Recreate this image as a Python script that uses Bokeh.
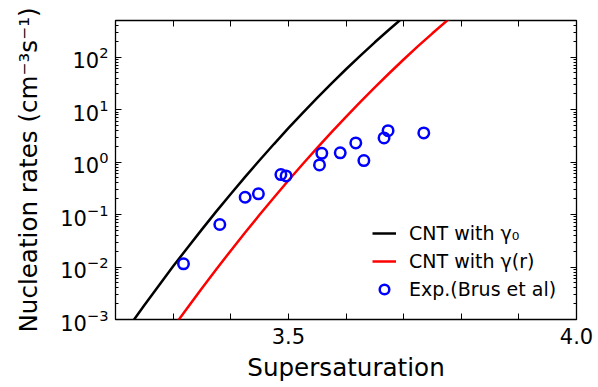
from bokeh.plotting import figure
from bokeh.models import (Range1d, FixedTicker, LinearAxis, LogAxis, Legend, LegendItem)
from bokeh.embed import file_html
from bokeh.resources import INLINE

# ---- data ----
cnt0_x = [3.200, 3.225, 3.250, 3.275, 3.300, 3.325, 3.350, 3.375, 3.400, 3.425, 3.450,
          3.475, 3.500, 3.525, 3.550, 3.575, 3.600, 3.625, 3.650, 3.675, 3.700, 3.725]
cnt0_rate = [3.16e-4, 7.74e-4, 1.87e-3, 4.42e-3, 1.03e-2, 2.34e-2, 5.22e-2, 0.115, 0.247, 0.524, 1.086,
             2.21, 4.43, 8.69, 16.7, 31.7, 58.9, 107.0, 192.0, 337.0, 581.0, 984.0]

cntr_x = [3.250, 3.275, 3.300, 3.325, 3.350, 3.375, 3.400, 3.425, 3.450, 3.475, 3.500, 3.525,
          3.550, 3.575, 3.600, 3.625, 3.650, 3.675, 3.700, 3.725, 3.750, 3.775, 3.800]
cntr_rate = [1.18e-4, 2.91e-4, 7.06e-4, 1.68e-3, 3.94e-3, 9.06e-3, 2.05e-2, 4.54e-2, 0.0989, 0.212, 0.446, 0.920,
             1.87, 3.73, 7.31, 14.1, 26.6, 49.4, 90.2, 162.0, 285.0, 493.0, 838.0]

exp_x = [3.318, 3.381, 3.425, 3.448, 3.487, 3.496, 3.554, 3.558, 3.590, 3.617, 3.631, 3.666, 3.673, 3.735]
exp_rate = [0.0115, 0.0646, 0.214, 0.248, 0.578, 0.546, 0.885, 1.47, 1.50, 2.32, 1.07, 2.89, 3.98, 3.60]

x_major = [3.5, 4.0]
x_minor = [3.2, 3.3, 3.4, 3.6, 3.7, 3.8, 3.9]
y_major = [1e-3, 1e-2, 1e-1, 1e0, 1e1, 1e2]
y_minor = [m * 10.0 ** e for e in range(-3, 3) for m in range(2, 10)]

FONT = "DejaVu Sans"

p = figure(width=598, height=387, y_axis_type="log",
           x_range=Range1d(3.2, 4.0), y_range=Range1d(1e-3, 500),
           output_backend="svg", toolbar_location=None,
           min_border_left=115, min_border_right=22,
           min_border_top=20, min_border_bottom=68)
p.grid.visible = False
p.outline_line_color = "black"
p.outline_line_width = 1.3
p.background_fill_color = "white"
p.border_fill_color = "white"

l0 = p.line(cnt0_x, cnt0_rate, line_color="black", line_width=2.5)
l1 = p.line(cntr_x, cntr_rate, line_color="#ff0000", line_width=2.5)
sc = p.scatter(exp_x, exp_rate, marker="circle", size=10.5, fill_color=None,
               line_color="#0000ff", line_width=2.5)

xt = FixedTicker(ticks=x_major, minor_ticks=x_minor)
yt = FixedTicker(ticks=y_major, minor_ticks=y_minor)

xa = p.xaxis[0]
xa.ticker = xt
xa.major_label_overrides = {3.5: "3.5", 4.0: "4.0"}
xa.axis_label = "Supersaturation"

ya = p.yaxis[0]
ya.ticker = yt
ya.axis_label = "Nucleation rates (cm\u207b\u00b3s\u207b\u00b9)"

for ax in (xa, ya):
    ax.axis_line_color = None
    ax.major_tick_in = 6
    ax.major_tick_out = 0
    ax.minor_tick_in = 3
    ax.minor_tick_out = 0
    ax.major_tick_line_width = 1
    ax.minor_tick_line_width = 1
    ax.major_label_text_font = FONT
    ax.major_label_text_font_size = "21px"
    ax.major_label_text_color = "black"
    ax.axis_label_text_font = FONT
    ax.axis_label_text_font_size = "24.6px"
    ax.axis_label_text_font_style = "normal"
    ax.axis_label_text_color = "black"
xa.minor_tick_in = 6
xa.major_label_standoff = 8
xa.axis_label_standoff = 6
ya.major_label_standoff = 7
ya.axis_label_standoff = 14

top = LinearAxis(ticker=xt)
top.major_label_overrides = {t: "" for t in x_major}
right = LogAxis(ticker=yt)
right.major_label_overrides = {t: "" for t in y_major}
for ax, mn in ((top, 6), (right, 3)):
    ax.axis_line_color = None
    ax.major_tick_in = 6
    ax.major_tick_out = 0
    ax.minor_tick_in = mn
    ax.minor_tick_out = 0
    ax.major_label_text_font_size = "1px"
    ax.major_label_standoff = 0
p.add_layout(top, "above")
p.add_layout(right, "right")

legend = Legend(items=[
    LegendItem(label="CNT with \u03b3\u2080", renderers=[l0]),
    LegendItem(label="CNT with \u03b3(r)", renderers=[l1]),
    LegendItem(label="Exp.(Brus et al)", renderers=[sc]),
], location=(257, 17))
legend.border_line_color = None
legend.background_fill_alpha = 0
legend.padding = 0
legend.margin = 0
legend.spacing = 2
legend.glyph_width = 24
legend.glyph_height = 26
legend.label_height = 26
legend.label_standoff = 13
legend.label_text_font = FONT
legend.label_text_font_size = "19px"
legend.label_text_color = "black"
p.add_layout(legend, "center")

open("out.html", "w").write(file_html(p, INLINE))
